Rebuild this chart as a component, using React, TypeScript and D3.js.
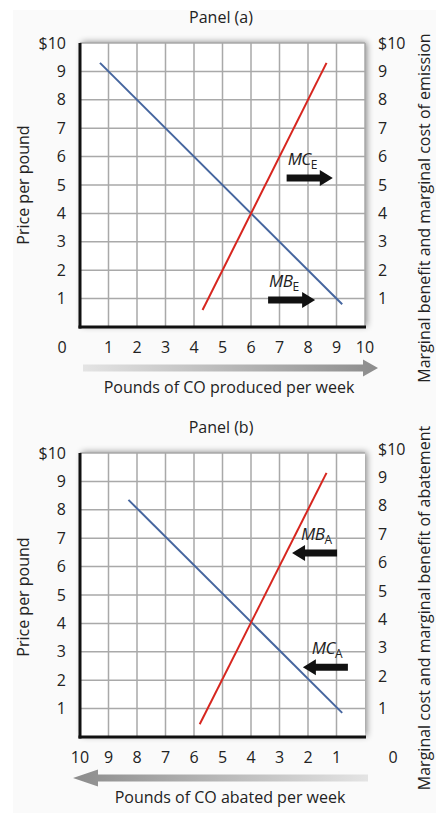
import React from "react";
import * as d3 from "d3";

// ---------- data ----------
const ticks = [1, 2, 3, 4, 5, 6, 7, 8, 9, 10];
const yTickLabels = ["1", "2", "3", "4", "5", "6", "7", "8", "9", "$10"];

// Panel (a): emissions (x = pounds produced)
const mbEmissionX = [0.7, 9.2];
const mbEmissionY = [9.3, 0.8];
const mcEmissionX = [4.3, 8.65];
const mcEmissionY = [0.6, 9.3];
const arrowLabelsA = ["MC", "MB"];
const arrowSubsA = ["E", "E"];
const arrowFromA = [7.25, 6.6];
const arrowToA = [8.87, 8.25];
const arrowYA = [5.25, 0.95];

// Panel (b): abatement (x = pounds abated, reversed)
const mcAbateX = [8.3, 0.8];
const mcAbateY = [8.35, 0.85];
const mbAbateX = [5.8, 1.35];
const mbAbateY = [0.45, 9.3];
const arrowLabelsB = ["MB", "MC"];
const arrowSubsB = ["A", "A"];
const arrowFromB = [0.98, 0.6];
const arrowToB = [2.56, 2.18];
const arrowYB = [6.48, 2.46];

const FONT = "'Open Sans', 'Noto Sans', sans-serif";
const RED = "#d7261f";
const BLUE = "#46669f";

function Arrow({ x0, x1, y }: { x0: number; x1: number; y: number }) {
  const dir = x1 > x0 ? 1 : -1;
  const headLen = 13;
  const shaft = 3.5;
  const head = 8;
  const hx = x1 - dir * headLen;
  const d = `M${x0},${y - shaft}L${hx},${y - shaft}L${hx},${y - head}L${x1},${y}L${hx},${y + head}L${hx},${y + shaft}L${x0},${y + shaft}Z`;
  return <path d={d} fill="#111" />;
}

function Panel({
  top,
  title,
  xLabel,
  rightLabel,
  reversed,
}: {
  top: number;
  title: string;
  xLabel: string;
  rightLabel: string;
  reversed: boolean;
}) {
  const left = 80;
  const right = 365;
  const plotTop = top;
  const bottom = top + 284;
  const x = d3
    .scaleLinear()
    .domain([0, 10])
    .range(reversed ? [right, left] : [left, right]);
  const y = d3.scaleLinear().domain([0, 10]).range([bottom, plotTop]);
  const line = d3
    .line<[number, number]>()
    .x((d) => x(d[0]))
    .y((d) => y(d[1]));

  const blueX = reversed ? mcAbateX : mbEmissionX;
  const blueY = reversed ? mcAbateY : mbEmissionY;
  const redX = reversed ? mbAbateX : mcEmissionX;
  const redY = reversed ? mbAbateY : mcEmissionY;
  const labels = reversed ? arrowLabelsB : arrowLabelsA;
  const subs = reversed ? arrowSubsB : arrowSubsA;
  const froms = reversed ? arrowFromB : arrowFromA;
  const tos = reversed ? arrowToB : arrowToA;
  const ays = reversed ? arrowYB : arrowYA;

  const gradId = reversed ? "gradB" : "gradA";
  const arrowY = bottom + 41;
  const gx0 = reversed ? 73 : 83;
  const gx1 = reversed ? 368 : 378;
  const gArrow = reversed
    ? `M${gx1},${arrowY - 3.5}L${gx0 + 25},${arrowY - 3.5}L${gx0 + 25},${arrowY - 8.5}L${gx0},${arrowY}L${gx0 + 25},${arrowY + 8.5}L${gx0 + 25},${arrowY + 3.5}L${gx1},${arrowY + 3.5}Z`
    : `M${gx0},${arrowY - 3.5}L${gx1 - 15},${arrowY - 3.5}L${gx1 - 15},${arrowY - 8.5}L${gx1},${arrowY}L${gx1 - 15},${arrowY + 8.5}L${gx1 - 15},${arrowY + 3.5}L${gx0},${arrowY + 3.5}Z`;

  return (
    <g>
      <defs>
        <linearGradient id={gradId} x1="0" x2="1" y1="0" y2="0">
          <stop offset="0" stopColor={reversed ? "#8c8c8c" : "#e4e4e4"} />
          <stop offset="1" stopColor={reversed ? "#e4e4e4" : "#8c8c8c"} />
        </linearGradient>
      </defs>
      <text
        x={221}
        y={plotTop - 20}
        textAnchor="middle"
        fontSize={16}
        fontFamily={FONT}
        fill="#222"
      >
        {title}
      </text>
      {/* plot background with shadow */}
      <rect
        x={left}
        y={plotTop}
        width={right - left}
        height={bottom - plotTop}
        fill="#fff"
        filter="url(#shadow)"
      />
      {/* grid */}
      {ticks.map((t) => (
        <line
          key={"v" + t}
          x1={x(t)}
          x2={x(t)}
          y1={plotTop}
          y2={bottom}
          stroke="#a9a9a9"
          strokeWidth={1.5}
        />
      ))}
      {ticks.map((t) => (
        <line
          key={"h" + t}
          x1={left}
          x2={right}
          y1={y(t)}
          y2={y(t)}
          stroke="#a9a9a9"
          strokeWidth={1.5}
        />
      ))}
      {/* axes */}
      <line x1={left} x2={left} y1={plotTop} y2={bottom + 1.5} stroke="#111" strokeWidth={3} />
      <line x1={left - 1.5} x2={right + 1} y1={bottom} y2={bottom} stroke="#111" strokeWidth={3} />
      {/* curves */}
      <path
        d={line(blueX.map((v, i) => [v, blueY[i]]) as [number, number][]) || ""}
        stroke={BLUE}
        strokeWidth={2}
        fill="none"
      />
      <path
        d={line(redX.map((v, i) => [v, redY[i]]) as [number, number][]) || ""}
        stroke={RED}
        strokeWidth={2}
        fill="none"
      />
      {/* arrows & labels */}
      {labels.map((lab, i) => {
        const xa = x(froms[i]);
        const xb = x(tos[i]);
        const yy = y(ays[i]);
        const lx = reversed ? Math.min(xa, xb) + 9 : Math.min(xa, xb) + 1;
        return (
          <g key={lab}>
            <Arrow x0={xa} x1={xb} y={yy} />
            <text x={lx} y={yy - 13} fontSize={17} fontFamily={FONT} fill="#222" letterSpacing={-0.5}>
              <tspan fontStyle="italic">{lab}</tspan>
              <tspan fontSize={12} dy={4}>
                {subs[i]}
              </tspan>
            </text>
          </g>
        );
      })}
      {/* y tick labels */}
      {ticks.map((t, i) => (
        <text
          key={"yl" + t}
          x={66}
          y={y(t)}
          dy="0.35em"
          textAnchor="end"
          fontSize={16}
          fontFamily={FONT}
          fill="#222"
        >
          {yTickLabels[i]}
        </text>
      ))}
      {ticks.map((t, i) => (
        <text
          key={"yr" + t}
          x={378}
          y={y(t) - (reversed && t > 1 ? 4 : 0)}
          dy="0.35em"
          textAnchor="start"
          fontSize={16}
          fontFamily={FONT}
          fill="#222"
        >
          {yTickLabels[i]}
        </text>
      ))}
      {/* x tick labels */}
      {ticks.map((t) => (
        <text
          key={"xl" + t}
          x={x(t)}
          y={bottom + 20}
          dy="0.35em"
          textAnchor="middle"
          fontSize={16}
          fontFamily={FONT}
          fill="#222"
        >
          {t}
        </text>
      ))}
      <text
        x={reversed ? 393 : 62}
        y={bottom + 20}
        dy="0.35em"
        textAnchor="middle"
        fontSize={16}
        fontFamily={FONT}
        fill="#222"
      >
        0
      </text>
      {/* gray direction arrow */}
      <path d={gArrow} fill={`url(#${gradId})`} />
      <text
        x={reversed ? 230 : 229}
        y={bottom + 66}
        textAnchor="middle"
        fontSize={16}
        fontFamily={FONT}
        fill="#222"
      >
        {xLabel}
      </text>
      {/* side labels */}
      <text
        transform={`translate(29, ${reversed ? 597 : 185}) rotate(-90)`}
        textAnchor="middle"
        fontSize={16}
        fontFamily={FONT}
        fill="#222"
      >
        Price per pound
      </text>
      <text
        transform={`translate(430, ${reversed ? 608 : 208}) rotate(-90)`}
        textAnchor="middle"
        fontSize={16}
        fontFamily={FONT}
        fill="#222"
      >
        {rightLabel}
      </text>
    </g>
  );
}

export default function App() {
  return (
    <svg
      width={436}
      height={813}
      style={{ position: "absolute", left: 0, top: 0 }}
      viewBox="0 0 436 813"
    >
      <defs>
        <filter id="shadow" x="-10%" y="-10%" width="120%" height="120%">
          <feDropShadow dx={2} dy={-1} stdDeviation={3} floodColor="#000" floodOpacity={0.45} />
        </filter>
      </defs>
      <rect x={0} y={0} width={436} height={813} fill="#fff" />
      <rect x={13} y={10} width={423} height={803} fill="#fafafa" />
      <Panel
        top={43}
        title="Panel (a)"
        xLabel="Pounds of CO produced per week"
        rightLabel="Marginal benefit and marginal cost of emission"
        reversed={false}
      />
      <Panel
        top={453}
        title="Panel (b)"
        xLabel="Pounds of CO abated per week"
        rightLabel="Marginal cost and marginal benefit of abatement"
        reversed={true}
      />
    </svg>
  );
}
